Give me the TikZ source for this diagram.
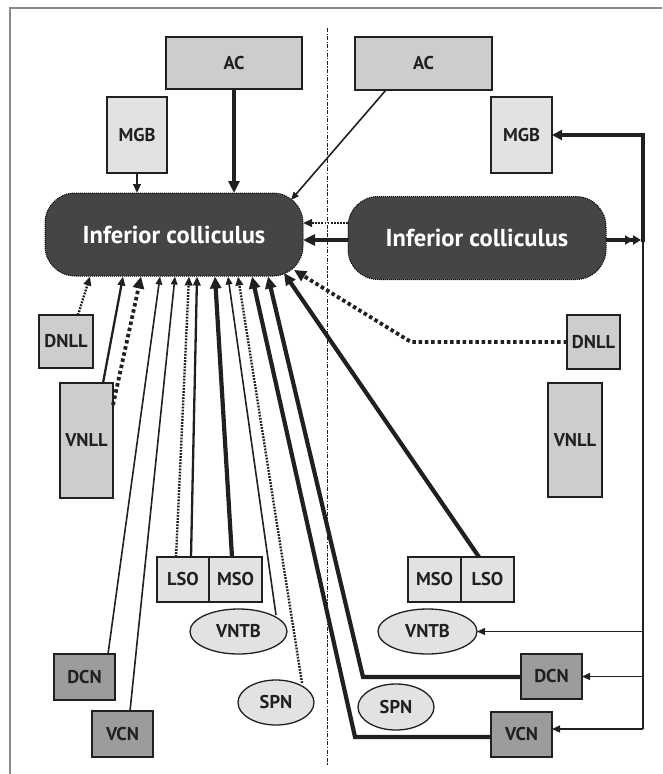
\documentclass[tikz,border=0pt]{standalone}
\usepackage{fontspec}
\setmainfont{PT Sans}
\usetikzlibrary{arrows.meta,calc,shapes.geometric}
\definecolor{lgray}{HTML}{CDCDCD}
\definecolor{vlgray}{HTML}{E2E2E2}
\definecolor{dgray}{HTML}{9C9C9C}
\definecolor{icgray}{HTML}{454545}
\definecolor{ink}{HTML}{231F20}
\definecolor{framegray}{HTML}{8A8A8A}
\tikzset{
  lab/.style={font=\bfseries\fontsize{18.5}{18.5}\selectfont, text=ink, draw=ink, line width=1.3pt, inner sep=0pt, outer sep=0pt},
  nb/.style={lab, rectangle, fill=lgray},
  lb/.style={lab, rectangle, fill=vlgray},
  db/.style={lab, rectangle, fill=dgray},
  ov/.style={lab, ellipse, fill=vlgray},
  icbox/.style={rectangle, rounded corners=30pt, fill=icgray, draw=black, line width=1pt, densely dotted, text=white, font=\bfseries\fontsize{24.5}{24.5}\selectfont, minimum width=258pt, minimum height=83pt, inner sep=0pt, outer sep=0pt},
  con/.style={draw=ink, line cap=butt},
  thinA/.style={con, line width=1.6pt, -{Triangle[length=8pt,width=6.5pt]}},
  medA/.style={con, line width=2.3pt, -{Triangle[length=9pt,width=7.5pt]}},
  thickA/.style={con, line width=4.2pt, -{Triangle[length=12pt,width=11pt]}},
  dotA/.style={con, line width=2.4pt, dash pattern=on 1.8pt off 1.3pt, -{Triangle[length=9pt,width=7.5pt]}},
  bigdotA/.style={con, line width=3.8pt, dash pattern=on 3.5pt off 2.8pt, -{Triangle[length=12pt,width=11pt]}},
  busthin/.style={con, line width=1.3pt},
  busthinA/.style={con, line width=1.3pt, -{Triangle[length=8pt,width=7pt]}},
  cline/.style={draw=ink, line width=1pt, dash pattern=on 4pt off 1.5pt on 1.2pt off 1.5pt},
  frame/.style={draw=framegray, line width=1.2pt}
}
\begin{document}
\begin{tikzpicture}[x=1pt,y=-1pt]
\useasboundingbox (0,0) rectangle (662,774);
\draw[frame] (10,774) -- (10,8) -- (662,8);
\coordinate (ctop) at (327,28);
\coordinate (cbot) at (327,765);
\draw[cline] (ctop) -- (cbot);

% nodes
\node[nb, minimum width=136pt, minimum height=52pt] (ACL) at (234,63) {AC};
\node[lb, minimum width=60pt, minimum height=76pt] (MGBL) at (137,135) {MGB};
\node[icbox] (ICL) at (174,234.5) {Inferior colliculus};
\node[nb, minimum width=137pt, minimum height=53pt] (ACR) at (423.5,63.5) {AC};
\node[lb, minimum width=61pt, minimum height=76pt] (MGBR) at (521.5,135) {MGB};
\node[icbox] (ICR) at (477,238) {Inferior colliculus};
\node[nb, minimum width=54pt, minimum height=53pt] (DNLLL) at (66,341.5) {DNLL};
\node[nb, minimum width=53pt, minimum height=115pt] (VNLLL) at (86.5,440.5) {VNLL};
\node[nb, minimum width=53pt, minimum height=54pt] (DNLLR) at (593.5,342) {DNLL};
\node[nb, minimum width=54pt, minimum height=114pt] (VNLLR) at (575,440) {VNLL};
\node[lb, minimum width=52pt, minimum height=45pt] (LSOL) at (183,579.5) {LSO};
\node[lb, minimum width=53pt, minimum height=45pt] (MSOL) at (235.5,579.5) {MSO};
\node[ov, minimum width=97pt, minimum height=45pt] (VNTBL) at (238.5,631.5) {VNTB};
\node[db, minimum width=61pt, minimum height=46pt] (DCNL) at (84.5,677) {DCN};
\node[db, minimum width=61pt, minimum height=46pt] (VCNL) at (122.5,734) {VCN};
\node[ov, minimum width=76pt, minimum height=45pt] (SPNL) at (276,702.5) {SPN};
\node[lb, minimum width=53pt, minimum height=45pt] (MSOR) at (434.5,579.5) {MSO};
\node[lb, minimum width=53pt, minimum height=45pt] (LSOR) at (487.5,579.5) {LSO};
\node[ov, minimum width=99pt, minimum height=45pt] (VNTBR) at (427.5,631.5) {VNTB};
\node[db, minimum width=61pt, minimum height=45pt] (DCNR) at (551.5,676.5) {DCN};
\node[ov, minimum width=76pt, minimum height=46pt] (SPNR) at (396,707) {SPN};
\node[db, minimum width=61pt, minimum height=45pt] (VCNR) at (521.5,734.5) {VCN};

% top inputs
\draw[thickA] (ACL.south) -- (ACL.south |- ICL.north);
\draw[medA] (MGBL.south) -- (MGBL.south |- ICL.north);
\coordinate (acrs) at ([xshift=31pt]ACR.south west);
\coordinate (iclne) at (291,200);
\draw[thinA] (acrs) -- (iclne);

% between colliculi
\draw[dotA] ([yshift=15pt]ICR.west) -- ([yshift=11.5pt]ICL.east);
\draw[thickA] ([yshift=-2pt]ICR.west) -- ([yshift=-5.5pt]ICL.east);

% right bus
\coordinate (busIC) at (643,240);
\coordinate (busbot) at (643,729);
\draw[con, line width=3.6pt, -{Triangle[length=8pt,width=9pt] Triangle[length=8pt,width=9pt]}] ([yshift=-2pt]ICR.east) -- ([xshift=-2pt]busIC);
\draw[con, line width=4.5pt, -{Triangle[length=10pt,width=10pt]}] ([yshift=-2pt]busIC) |- (MGBR.east);
\draw[busthin] (busIC) -- (busbot);
\draw[busthinA] (busIC |- VNTBR.east) -- (VNTBR.east);
\draw[busthinA] (busIC |- DCNR.east) -- (DCNR.east);
\draw[busthinA] (busbot) -- ([yshift=5.5pt]VCNR.east);

% inputs from below into left IC
\coordinate (i1) at (90,276.5);
\coordinate (i2) at (123,276.5);
\coordinate (i3) at (141,276.5);
\coordinate (i4) at (160,276.5);
\coordinate (i5) at (175,276.5);
\coordinate (i6) at (189,276.5);
\coordinate (i7) at (197,276.5);
\coordinate (i8) at (215,276.5);
\coordinate (i9) at (228,276.5);
\coordinate (i10) at (238,276.5);
\coordinate (i11) at (252,276.5);
\coordinate (i12) at (268,276.5);
\coordinate (i13) at (284,273);
\coordinate (i14) at (294,270);

\draw[dotA] ([xshift=12pt]DNLLL.north) -- (i1);
\draw[medA] ([xshift=16.5pt]VNLLL.north) -- (i2);
\draw[bigdotA] ([yshift=35.5pt]VNLLL.east) -- (i3);
\draw[thinA] ([xshift=23.5pt]DCNL.north) -- (i4);
\draw[thinA] ([xshift=7.5pt]VCNL.north) -- (i5);
\draw[dotA] ([xshift=-7pt]LSOL.north) -- (i6);
\draw[medA] ([xshift=8pt]LSOL.north) -- (i7);
\draw[thickA] ([xshift=-3.5pt]MSOL.north) -- (i8);
\coordinate (vntbl) at (276,615);
\draw[thinA] (vntbl) -- (i9);
\coordinate (spnl) at (302,683);
\draw[dotA] (spnl) -- (i10);
\coordinate (vcnrk) at (355,737);
\draw[thickA] ([yshift=-2.5pt]VCNR.west) -- (vcnrk) -- (i11);
\coordinate (dcnrk) at (363,677);
\draw[thickA] ([yshift=-0.5pt]DCNR.west) -- (dcnrk) -- (i12);
\draw[thickA] ([xshift=-8.5pt]LSOR.north) -- (i13);
\coordinate (dnllrk) at (411,342);
\draw[bigdotA] (DNLLR.west) -- (dnllrk) -- (i14);
\end{tikzpicture}
\end{document}
